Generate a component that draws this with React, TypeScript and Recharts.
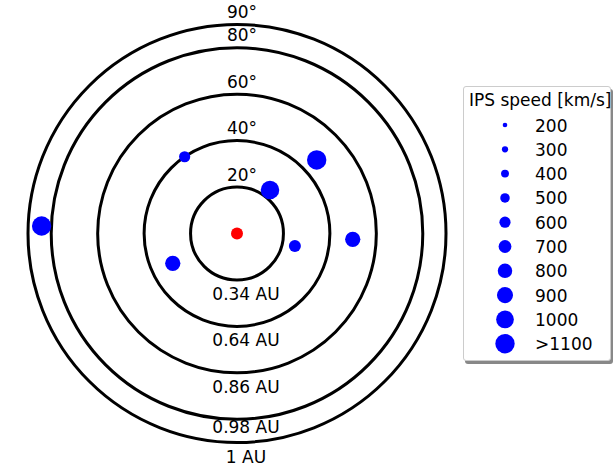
import React from 'react';
import { RadarChart, Radar, PolarGrid, PolarAngleAxis, PolarRadiusAxis, Legend } from 'recharts';

// ring elongations (deg) and their closest-approach distance labels
const ringDegrees = [20, 40, 60, 80, 90];
const ringAU = ['0.34 AU', '0.64 AU', '0.86 AU', '0.98 AU', '1 AU'];

// observed points: position angle (deg, ccw from east), elongation (deg), IPS speed (km/s)
const pointNames = ['Sun', 'A', 'B', 'C', 'D', 'E', 'F', 'G'];
const positionAngle = [0, 124.3, 42.7, 52.8, 177.8, 357.1, 347.8, 204.9];
const elongation = [0, 40.0, 46.7, 23.5, 84.2, 49.9, 25.5, 30.5];
const speed = [0, 600, 1200, 1050, 1200, 850, 650, 850];

const legendSpeeds = [200, 300, 400, 500, 600, 700, 800, 900, 1000, 1100];
const legendLabels = ['200', '300', '400', '500', '600', '700', '800', '900', '1000', '>1100'];

const chartTitle = '2024-05-15';

const data = pointNames.map((name, i) => ({
  name,
  pa: positionAngle[i],
  elong: elongation[i],
  speed: speed[i],
}));

const FONT = '"DejaVu Sans", sans-serif';
const CY = 233.5;

const dotRadius = (v: number) => 0.66 + 0.0082 * Math.min(v, 1100);

const renderDot = (props: any) => {
  const row = props.payload?.payload ?? props.payload;
  const { cx, cy } = props;
  if (row.name === 'Sun') {
    return <circle key={props.key ?? 'sun'} cx={cx} cy={cy} r={6} fill="#ff0000" />;
  }
  return <circle key={props.key ?? row.name} cx={cx} cy={cy} r={dotRadius(row.speed)} fill="#0000ff" />;
};

// the radius axis points up: degree label above the ring, AU label mirrored below it
const RingTick = (props: any) => {
  const { x, y, payload } = props;
  const centerY = typeof props.cy === 'number' ? props.cy : CY;
  const idx = ringDegrees.indexOf(payload.value);
  const below = 2 * centerY - y;
  const dy = payload.value === 80 ? 14 : 20;
  return (
    <g>
      <text x={x + 5} y={y - 6.5} textAnchor="middle" fontSize={17} fontFamily={FONT} fill="#000">
        {payload.value}°
      </text>
      <text x={x + 9} y={below + dy} textAnchor="middle" fontSize={17} fontFamily={FONT} fill="#000">
        {ringAU[idx]}
      </text>
    </g>
  );
};

const SpeedLegend = () => (
  <div
    style={{
      width: 146,
      height: 273,
      background: '#fff',
      border: '1px solid #cccccc',
      borderRadius: 3,
      boxShadow: '2px 3px 0 #888',
      fontFamily: FONT,
      fontSize: 17,
      color: '#000',
      position: 'relative',
    }}
  >
    <div style={{ position: 'absolute', left: 5, top: 3, whiteSpace: 'nowrap' }}>IPS speed [km/s]</div>
    <svg width={146} height={273} style={{ position: 'absolute', left: 0, top: 0 }}>
      {legendSpeeds.map((s, i) => (
        <g key={s}>
          <circle cx={41} cy={38 + i * 24.3} r={dotRadius(s)} fill="#0000ff" />
          <text x={71} y={44.5 + i * 24.3} fontSize={17} fontFamily={FONT} fill="#000">
            {legendLabels[i]}
          </text>
        </g>
      ))}
    </svg>
  </div>
);

export default function App() {
  return (
    <div style={{ position: 'fixed', left: 0, top: 0, width: 613, height: 466, background: '#fff', overflow: 'hidden' }}>
      <div
        style={{
          position: 'absolute',
          left: 292,
          width: 200,
          top: -16,
          textAlign: 'center',
          fontFamily: FONT,
          fontSize: 17,
          lineHeight: '20px',
          zIndex: 2,
        }}
      >
        {chartTitle}
      </div>
      <RadarChart
        width={613}
        height={466}
        data={data}
        cx={237}
        cy={CY}
        innerRadius={0}
        outerRadius={209}
        startAngle={0}
        endAngle={360}
        margin={{ top: 0, right: 0, bottom: 0, left: 0 }}
      >
        <PolarGrid gridType="circle" radialLines={false} stroke="#000" strokeWidth={3} />
        <PolarAngleAxis dataKey="pa" type="number" domain={[0, 360]} tick={false} axisLine={false} />
        <PolarRadiusAxis
          angle={90}
          domain={[0, 90]}
          ticks={ringDegrees}
          tick={RingTick}
          axisLine={false}
          tickLine={false}
        />
        <Radar
          dataKey="elong"
          stroke="none"
          fill="none"
          dot={renderDot}
          activeDot={false}
          isAnimationActive={false}
        />
        <Legend
          content={SpeedLegend}
          layout="vertical"
          align="right"
          verticalAlign="top"
          wrapperStyle={{ position: 'absolute', left: 463, top: 86, width: 150, right: 'auto' }}
        />
      </RadarChart>
    </div>
  );
}
